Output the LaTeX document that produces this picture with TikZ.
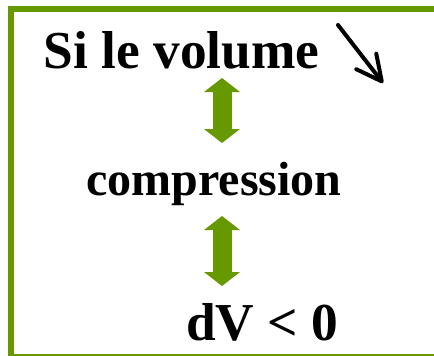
\documentclass[tikz,border=0pt]{standalone}
\usepackage{fontspec}
\setmainfont{Liberation Serif}
\usetikzlibrary{arrows.meta}

\definecolor{leafgreen}{RGB}{102,153,0}

\tikzset{every picture/.style={line width=0.75pt}}
\tikzset{
  bigword/.style={anchor=base,inner sep=0.75pt,font=\bfseries\fontsize{40}{48}\selectfont},
  equivarrow/.style={draw=leafgreen,line width=14.25pt,
    {Triangle[length=10.5pt,width=27pt,line width=0pt]}-{Triangle[length=10.5pt,width=27pt,line width=0pt]}}
}

\begin{document}
\begin{tikzpicture}[x=0.75pt,y=0.75pt,yscale=-1,xscale=1]

\useasboundingbox (0,0) rectangle (434,355);
\clip (0,0) rectangle (434,355);

% frame
\draw [color=leafgreen][line width=4.5pt]  (11,9) rectangle (445,357) ;

% words
\draw (181.5,68) node [bigword] (volume) {Si le volume};
\draw (214,195) node [bigword,font=\bfseries\fontsize{36}{43}\selectfont] (compression) {compression};
\draw (262,340) node [bigword] (dv) {dV < 0};

% decreasing arrow
\coordinate (down0) at (338,25);
\coordinate (down1) at (383,83);
\draw [line width=3pt,line cap=round,-{Straight Barb[length=19pt,width=19pt,line cap=round,line join=round]}] (down0) -- (down1) ;

% equivalence arrows
\coordinate (eqa0) at (222,78);
\coordinate (eqa1) at (222,143);
\coordinate (eqb0) at (222,216);
\coordinate (eqb1) at (222,286);
\draw [equivarrow] (eqa0) -- (eqa1) ;
\draw [equivarrow] (eqb0) -- (eqb1) ;

\end{tikzpicture}
\end{document}
